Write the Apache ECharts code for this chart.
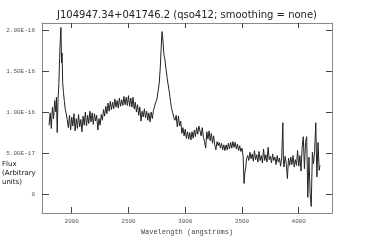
<!DOCTYPE html>
<html><head><meta charset="utf-8">
<script src="https://cdn.jsdelivr.net/npm/echarts@6/dist/echarts.min.js"></script>
<style>html,body{margin:0;padding:0;background:#fff}#c{width:374px;height:250px}</style>
</head><body><div id="c"></div>
<script>
// Wavelength (angstroms)
const wavelengths = [
1800,1810,1820,1830,1840,1850,1860,1865,1872,1880,1887,1893,1899,1905,1910,1915,1920,1927,1935,1943,
1950,1960,1970,1980,1990,2000,2010,2020,2030,2040,2050,2060,2070,2080,2090,2100,2110,2120,2130,2140,
2150,2160,2170,2180,2190,2200,2210,2220,2230,2240,2250,2260,2270,2280,2290,2300,2310,2320,2330,2340,
2350,2360,2370,2380,2390,2400,2410,2420,2430,2440,2450,2460,2470,2480,2490,2500,2510,2520,2530,2540,
2550,2560,2570,2580,2590,2600,2610,2620,2630,2640,2650,2660,2670,2680,2690,2700,2710,2720,2730,2740,
2750,2760,2770,2780,2788,2795,2800,2806,2812,2820,2830,2840,2850,2860,2870,2880,2890,2900,2910,2920,
2930,2940,2950,2960,2970,2980,2990,3000,3010,3020,3030,3040,3050,3060,3070,3080,3090,3100,3110,3120,
3130,3140,3150,3160,3170,3180,3190,3200,3210,3220,3230,3240,3250,3260,3270,3280,3290,3300,3310,3320,
3330,3340,3350,3360,3370,3380,3390,3400,3410,3420,3430,3440,3450,3460,3470,3480,3490,3500,3510,3518,
3525,3533,3540,3550,3560,3570,3580,3590,3600,3610,3620,3630,3640,3650,3660,3670,3680,3690,3700,3710,
3720,3730,3740,3750,3760,3770,3780,3790,3800,3810,3820,3830,3840,3850,3860,3865,3870,3880,3890,3900,
3910,3920,3930,3940,3950,3960,3970,3980,3990,4000,4010,4020,4030,4040,4050,4060,4070,4080,4090,4100,
4110,4120,4130,4140,4150,4160,4170,4180,4187
];
// Flux in units of 1e-17
const flux = [
8.4,9.9,8.0,10.6,9.2,11.4,10.0,11.8,7.5,11.8,13.5,16.5,18.8,20.3,16.0,17.2,13.6,12.4,11.3,10.3,
9.9,9.1,8.1,9.6,7.8,9.4,8.3,9.8,7.7,9.2,8.0,9.7,8.2,9.1,7.6,9.5,8.4,10.0,8.3,9.6,
8.6,10.1,8.8,9.9,8.5,9.8,8.9,9.6,7.8,9.2,8.4,9.7,9.0,10.3,9.5,10.7,9.8,11.1,10.1,11.3,
10.3,11.2,10.4,11.6,10.6,11.4,10.5,11.7,10.7,11.5,10.8,11.9,10.9,11.8,10.8,12.0,10.7,11.7,10.6,11.8,
10.4,11.2,10.0,10.9,9.6,10.6,8.9,10.1,9.4,10.4,9.3,10.1,9.0,9.9,8.8,10.0,9.2,10.2,10.2,11.2,
11.5,12.5,13.4,15.4,17.8,19.8,19.3,18.2,17.0,16.5,15.3,14.2,13.3,12.4,11.3,10.4,9.9,9.3,9.0,9.6,
8.2,9.5,8.3,8.9,7.4,8.1,7.1,7.9,6.8,7.6,6.7,7.5,6.6,7.6,6.8,7.8,7.0,8.1,7.3,8.3,
8.3,7.1,8.1,6.9,6.4,5.6,7.6,6.7,7.7,6.5,7.4,6.2,7.1,6.0,5.4,6.4,5.9,6.3,5.6,6.2,
5.4,6.0,5.3,6.0,5.4,6.2,5.5,6.3,5.6,6.4,5.7,6.3,5.5,6.1,5.3,5.9,5.2,5.6,4.6,1.3,
2.6,3.2,4.3,4.7,4.1,5.1,4.3,4.9,4.0,5.3,4.2,4.8,3.9,5.2,4.1,4.7,3.8,5.5,4.1,4.8,
3.9,5.7,4.2,4.6,3.8,4.9,4.1,4.5,3.6,4.7,3.9,4.4,3.4,4.5,8.7,4.0,3.3,4.6,3.7,1.9,
4.4,3.5,4.5,3.6,4.7,3.3,4.2,3.5,5.3,3.4,4.7,2.8,5.7,7.0,3.1,6.3,7.0,-0.4,4.5,0.1,
-1.5,5.1,3.7,5.2,8.7,2.1,6.3,2.9,3.5
];
const xTicks = [2000, 2500, 3000, 3500, 4000];
const yTicks = [0, 5, 10, 15, 20];
const titleText = 'J104947.34+041746.2 (qso412; smoothing = none)';

const pts = wavelengths.map((w, i) => [w, flux[i]]);
const fmtY = v => v === 0 ? '0' : (v * 1e-17).toExponential(2).toUpperCase();
const fmtX = v => String(v);
const tickFont = {fontFamily: 'Liberation Mono', fontSize: 6, color: '#555'};
const axisLine = {show: true, onZero: false, lineStyle: {color: '#888', width: 1}};
const chart = echarts.init(document.getElementById('c'), null, {renderer: 'canvas'});
chart.setOption({
  animation: false,
  title: {text: titleText, left: 'center', top: 5,
    textStyle: {fontFamily: 'DejaVu Sans', fontSize: 10, fontWeight: 'normal', color: '#222'}},
  graphic: [{type: 'text', left: 2, top: 160,
    style: {text: 'Flux\n(Arbitrary\nunits)', font: '7px "DejaVu Sans"', fill: '#111', lineHeight: 9}}],
  grid: {left: 42, right: 42, top: 23, bottom: 37},
  xAxis: [{
    type: 'value', min: 1738, max: 4293, position: 'bottom',
    axisLine: axisLine,
    axisTick: {show: true, inside: true, length: 6, customValues: xTicks, lineStyle: {color: '#444'}},
    axisLabel: Object.assign({customValues: xTicks, margin: 5, formatter: fmtX}, tickFont),
    splitLine: {show: false},
    name: 'Wavelength (angstroms)', nameLocation: 'middle', nameGap: 16,
    nameTextStyle: {fontFamily: 'Liberation Mono', fontSize: 7, color: '#444'}
  }, {
    type: 'value', min: 1738, max: 4293, position: 'top',
    axisLine: axisLine,
    axisTick: {show: true, inside: true, length: 5, customValues: xTicks, lineStyle: {color: '#444'}},
    axisLabel: {show: false}, splitLine: {show: false}
  }],
  yAxis: [{
    type: 'value', min: -2.3, max: 20.85, position: 'left',
    axisLine: axisLine,
    axisTick: {show: true, inside: true, length: 7, customValues: yTicks, lineStyle: {color: '#444'}},
    axisLabel: Object.assign({customValues: yTicks, margin: 7, formatter: fmtY}, tickFont),
    splitLine: {show: false}
  }, {
    type: 'value', min: -2.3, max: 20.85, position: 'right',
    axisLine: axisLine,
    axisTick: {show: true, inside: true, length: 6, customValues: yTicks, lineStyle: {color: '#444'}},
    axisLabel: {show: false}, splitLine: {show: false}
  }],
  series: [{
    type: 'line', data: pts, showSymbol: false, symbol: 'none',
    lineStyle: {color: '#222', width: 1}
  }]
});
</script></body></html>
